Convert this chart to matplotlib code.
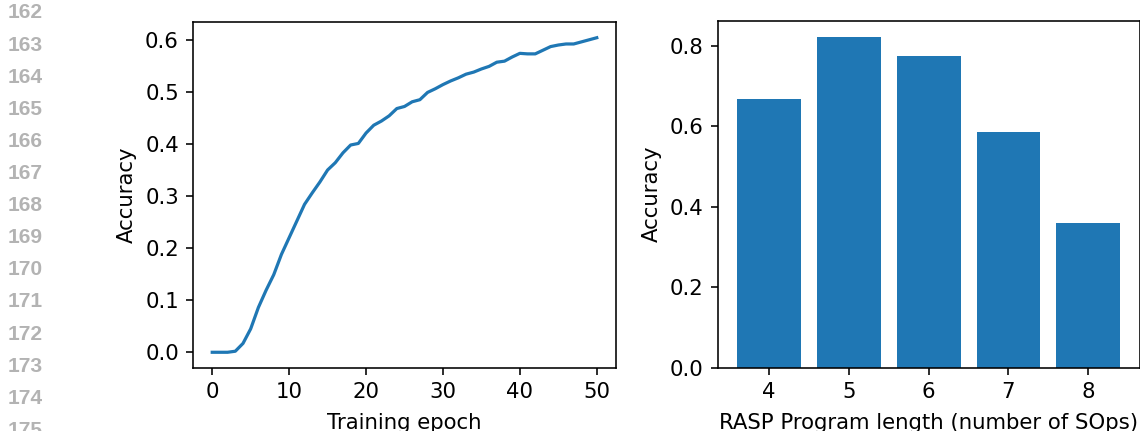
import matplotlib.pyplot as plt
import numpy as np

# Left panel: accuracy over training epochs
epochs = np.arange(0, 51)
train_acc = [0.000, 0.000, 0.000, 0.002, 0.017, 0.045, 0.086, 0.119, 0.149, 0.188,
             0.220, 0.252, 0.284, 0.306, 0.327, 0.350, 0.364, 0.383, 0.398, 0.401,
             0.421, 0.436, 0.444, 0.454, 0.468, 0.472, 0.481, 0.485, 0.499, 0.506,
             0.514, 0.521, 0.527, 0.534, 0.538, 0.544, 0.549, 0.557, 0.559, 0.567,
             0.574, 0.573, 0.573, 0.580, 0.587, 0.590, 0.592, 0.592, 0.596, 0.600,
             0.604]

# Right panel: accuracy by program length
prog_lengths = [4, 5, 6, 7, 8]
length_acc = [0.667, 0.822, 0.775, 0.585, 0.360]

# Page line numbers on the left margin
line_numbers = list(range(162, 176))

plt.rcParams['font.size'] = 10.6

W, H = 1140, 431
fig = plt.figure(figsize=(W / 144, H / 144), dpi=144)

ax1 = fig.add_axes([193 / W, 1 - 368 / H, (616 - 193) / W, (368 - 22) / H])
ax1.plot(epochs, train_acc, color='#1f77b4', linewidth=1.6)
ax1.set_xlabel('Training epoch', labelpad=5.5)
ax1.set_ylabel('Accuracy')
ax1.set_xticks([0, 10, 20, 30, 40, 50])
ax1.set_yticks([0.0, 0.1, 0.2, 0.3, 0.4, 0.5, 0.6])

ax2 = fig.add_axes([717.7 / W, 1 - 367.7 / H, (1139.5 - 717.7) / W, (367.7 - 20.5) / H])
ax2.bar(prog_lengths, length_acc, color='#1f77b4', width=0.8)
ax2.set_xlabel('RASP Program length (number of SOps)', labelpad=5.5)
ax2.set_ylabel('Accuracy')
ax2.set_xticks(prog_lengths)
ax2.set_yticks([0.0, 0.2, 0.4, 0.6, 0.8])

for i, n in enumerate(line_numbers):
    fig.text(8 / W, 1 - (13 + 32.1 * i) / H, str(n), ha='left', va='center',
             fontsize=10.5, fontweight='bold', color='#b3b3b3',
             family='Liberation Sans')

fig.savefig('out.png', dpi=144)
